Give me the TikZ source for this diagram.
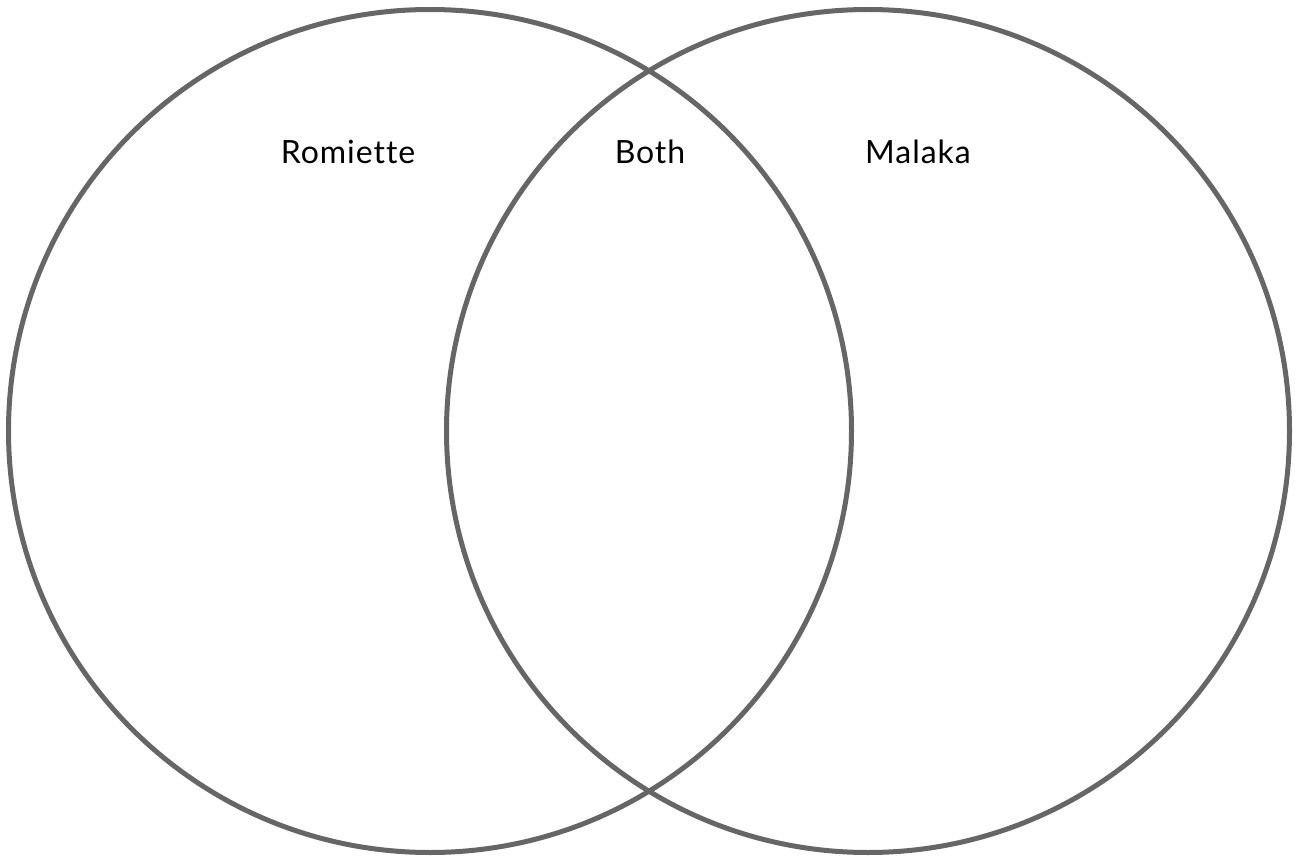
\documentclass[tikz,border=0pt]{standalone}
\usepackage{fontspec}
\setmainfont[Ligatures=NoCommon]{Lato}
\begin{document}
\begin{tikzpicture}[x=1pt,y=-1pt,
  ring/.style={draw=ringgray,line width=5pt},
  lbl/.style={font=\fontsize{32}{38}\selectfont\addfontfeature{LetterSpace=3}, text=black, inner sep=0pt}]
\definecolor{ringgray}{HTML}{666666}
\useasboundingbox (0,0) rectangle (1296,856);
\node[ring,circle,minimum size=843pt,inner sep=0pt] (L) at (430,431) {};
\node[ring,circle,minimum size=843pt,inner sep=0pt] (R) at (868,431) {};
\node[lbl] (romiette) at (348,152) {Romiette};
\node[lbl] (both) at (650,152) {Both};
\node[lbl] (malaka) at (918,152) {Malaka};
\end{tikzpicture}
\end{document}
